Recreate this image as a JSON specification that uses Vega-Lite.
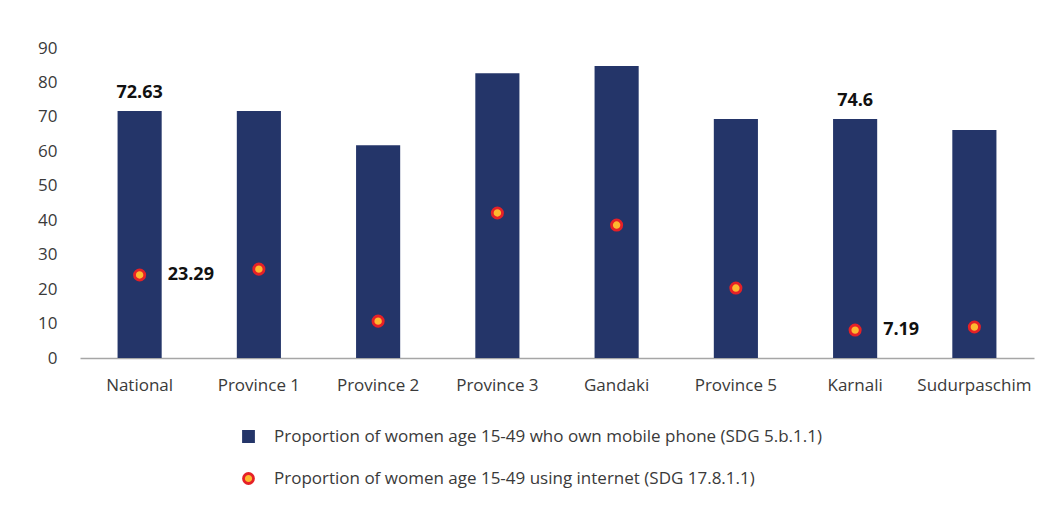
{
  "$schema": "https://vega.github.io/schema/vega-lite/v6.json",
  "autosize": "none",
  "width": 954,
  "height": 310,
  "padding": {"left": 80, "top": 48, "right": 23, "bottom": 153},
  "background": "white",
  "config": {
    "view": {"stroke": null},
    "font": "Open Sans",
    "axis": {"labelFont": "Open Sans", "labelColor": "#3a3a3a", "labelFontSize": 17, "grid": false, "ticks": false, "title": null},
    "legend": {"title": null, "orient": "none", "legendX": 160, "legendY": 380, "direction": "vertical",
      "labelFontSize": 17, "labelColor": "#3a3a3a", "labelFont": "Open Sans", "labelOffset": 17, "rowPadding": 19,
      "symbolSize": 100, "symbolStrokeWidth": 2.8, "labelLimit": 800}
  },
  "data": {
    "values": [
      {"region": "National", "series": "Proportion of women age 15-49 who own mobile phone (SDG 5.b.1.1)", "value": 71.7, "label": "72.63"},
      {"region": "Province 1", "series": "Proportion of women age 15-49 who own mobile phone (SDG 5.b.1.1)", "value": 71.7, "label": null},
      {"region": "Province 2", "series": "Proportion of women age 15-49 who own mobile phone (SDG 5.b.1.1)", "value": 61.8, "label": null},
      {"region": "Province 3", "series": "Proportion of women age 15-49 who own mobile phone (SDG 5.b.1.1)", "value": 82.7, "label": null},
      {"region": "Gandaki", "series": "Proportion of women age 15-49 who own mobile phone (SDG 5.b.1.1)", "value": 84.8, "label": null},
      {"region": "Province 5", "series": "Proportion of women age 15-49 who own mobile phone (SDG 5.b.1.1)", "value": 69.4, "label": null},
      {"region": "Karnali", "series": "Proportion of women age 15-49 who own mobile phone (SDG 5.b.1.1)", "value": 69.4, "label": "74.6"},
      {"region": "Sudurpaschim", "series": "Proportion of women age 15-49 who own mobile phone (SDG 5.b.1.1)", "value": 66.2, "label": null},
      {"region": "National", "series": "Proportion of women age 15-49 using internet (SDG 17.8.1.1)", "value": 24.1, "label": "23.29"},
      {"region": "Province 1", "series": "Proportion of women age 15-49 using internet (SDG 17.8.1.1)", "value": 25.8, "label": null},
      {"region": "Province 2", "series": "Proportion of women age 15-49 using internet (SDG 17.8.1.1)", "value": 10.7, "label": null},
      {"region": "Province 3", "series": "Proportion of women age 15-49 using internet (SDG 17.8.1.1)", "value": 42.1, "label": null},
      {"region": "Gandaki", "series": "Proportion of women age 15-49 using internet (SDG 17.8.1.1)", "value": 38.6, "label": null},
      {"region": "Province 5", "series": "Proportion of women age 15-49 using internet (SDG 17.8.1.1)", "value": 20.3, "label": null},
      {"region": "Karnali", "series": "Proportion of women age 15-49 using internet (SDG 17.8.1.1)", "value": 8.1, "label": "7.19"},
      {"region": "Sudurpaschim", "series": "Proportion of women age 15-49 using internet (SDG 17.8.1.1)", "value": 9.0, "label": null}
    ]
  },
  "encoding": {
    "x": {
      "field": "region", "type": "nominal", "sort": null,
      "scale": {"paddingInner": 0.63, "paddingOuter": 0.315},
      "axis": {"labelAngle": 0, "labelPadding": 19, "domainColor": "#a6a6a6", "domainWidth": 1.5}
    },
    "y": {
      "field": "value", "type": "quantitative",
      "scale": {"domain": [0, 90], "nice": false},
      "axis": {"values": [0, 10, 20, 30, 40, 50, 60, 70, 80, 90], "domain": false, "labelPadding": 23}
    }
  },
  "layer": [
    {
      "transform": [{"filter": "indexof(datum.series, 'mobile') >= 0"}],
      "mark": {"type": "bar", "strokeWidth": 0},
      "encoding": {
        "fill": {"field": "series", "type": "nominal", "scale": {"domain": ["Proportion of women age 15-49 who own mobile phone (SDG 5.b.1.1)", "Proportion of women age 15-49 using internet (SDG 17.8.1.1)"], "range": ["#243569", "#FDB92F"]}},
        "stroke": {"field": "series", "type": "nominal", "scale": {"domain": ["Proportion of women age 15-49 who own mobile phone (SDG 5.b.1.1)", "Proportion of women age 15-49 using internet (SDG 17.8.1.1)"], "range": ["#243569", "#E52127"]}}
      }
    },
    {
      "transform": [{"filter": "indexof(datum.series, 'internet') >= 0"}],
      "mark": {"type": "point", "filled": false, "size": 105, "strokeWidth": 2.8, "opacity": 1},
      "encoding": {
        "fill": {"field": "series", "type": "nominal"},
        "shape": {"field": "series", "type": "nominal", "scale": {"domain": ["Proportion of women age 15-49 who own mobile phone (SDG 5.b.1.1)", "Proportion of women age 15-49 using internet (SDG 17.8.1.1)"], "range": ["square", "circle"]}},
        "stroke": {"field": "series", "type": "nominal"}
      }
    },
    {
      "transform": [{"filter": "indexof(datum.series, 'mobile') >= 0 && datum.label != null"}],
      "mark": {"type": "text", "align": "center", "baseline": "alphabetic", "dy": -13, "fontSize": 18, "fontWeight": "bold", "font": "Open Sans", "color": "#111111"},
      "encoding": {"text": {"field": "label"}}
    },
    {
      "transform": [{"filter": "indexof(datum.series, 'internet') >= 0 && datum.label != null"}],
      "mark": {"type": "text", "align": "left", "baseline": "middle", "dx": 28, "fontSize": 18, "fontWeight": "bold", "font": "Open Sans", "color": "#111111"},
      "encoding": {"text": {"field": "label"}}
    }
  ]
}
